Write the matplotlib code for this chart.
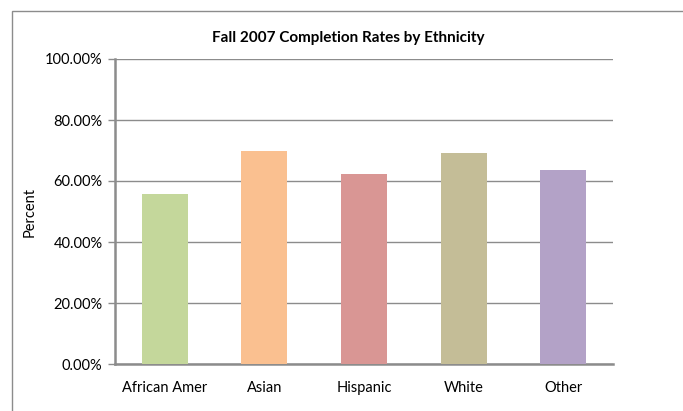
import matplotlib
matplotlib.use("Agg")
import matplotlib.pyplot as plt
from matplotlib.patches import Rectangle
from matplotlib.ticker import FuncFormatter

categories = ["African Amer", "Asian", "Hispanic", "White", "Other"]
values = [55.7, 69.8, 62.3, 69.2, 63.6]
colors = ["#C4D79B", "#FAC090", "#D99694", "#C4BD97", "#B3A2C7"]
yticks = [0, 20, 40, 60, 80, 100]

plt.rcParams['font.family'] = ['Lato', 'DejaVu Sans']

W, H = 683, 411
fig = plt.figure(figsize=(W / 100, H / 100), dpi=100)
fig.patch.set_facecolor("white")

# outer chart border (cropped at right/bottom)
fig.add_artist(Rectangle((12 / W, -0.05), 2.0, (H - 11) / H + 0.05,
                         transform=fig.transFigure, fill=False,
                         edgecolor="#8c8c8c", linewidth=1.0))

left, right, top, bottom = 115, 613, 59, 364
ax = fig.add_axes([left / W, 1 - bottom / H, (right - left) / W, (bottom - top) / H])

x = range(len(categories))
ax.bar(x, values, width=0.46, color=colors, zorder=3)

ax.set_xlim(-0.5, len(categories) - 0.5)
ax.set_ylim(0, 100)
ax.set_yticks(yticks)
ax.yaxis.set_major_formatter(FuncFormatter(lambda v, p: f"{v:.2f}%"))
ax.set_xticks(list(x))
ax.set_xticklabels(categories)

ax.grid(axis="y", color="#8c8c8c", linewidth=1.0, zorder=0)
ax.set_axisbelow(True)
for s in ["top", "right"]:
    ax.spines[s].set_visible(False)
ax.spines["left"].set_color("#8c8c8c")
ax.spines["left"].set_linewidth(1.8)
ax.spines["bottom"].set_color("#8c8c8c")
ax.spines["bottom"].set_linewidth(1.8)

ax.tick_params(axis="y", length=5, width=1, color="#8c8c8c", labelsize=10.5, pad=4)
ax.tick_params(axis="x", length=0, labelsize=10.5, pad=12)

ax.set_ylabel("Percent", fontsize=10.5, labelpad=6)
fig.text(348 / W, 1 - 38 / H, "Fall 2007 Completion Rates by Ethnicity",
         ha="center", va="center", fontsize=11, fontweight="bold")

fig.savefig("out.png", dpi=100)
